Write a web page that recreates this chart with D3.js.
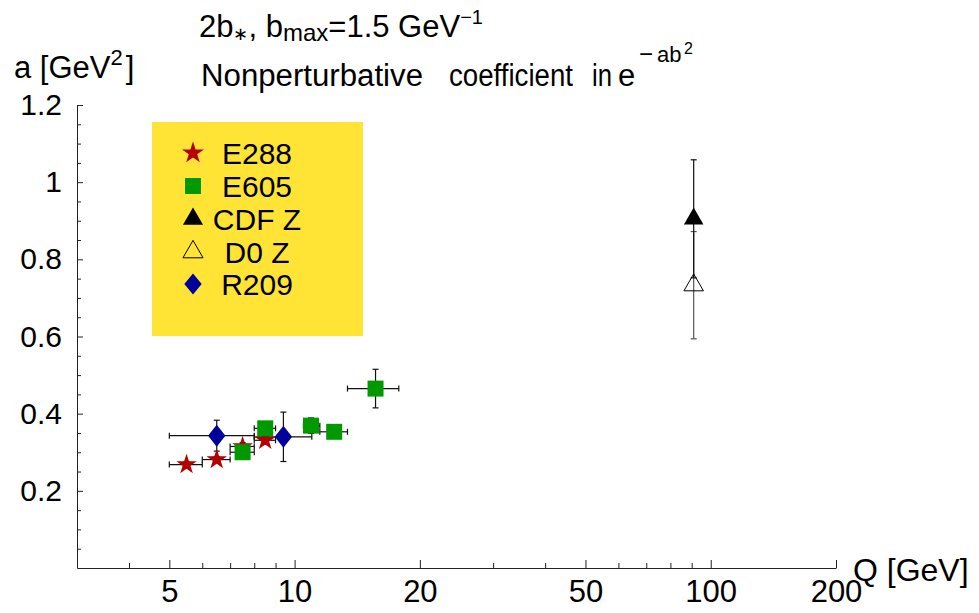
<!DOCTYPE html>
<html>
<head>
<meta charset="utf-8">
<script src="https://cdn.jsdelivr.net/npm/d3@7"></script>
<style>
  body { margin: 0; background: #fff; }
  text { font-family: "Liberation Sans", Arial, sans-serif; fill: #000; }
</style>
</head>
<body>
<div id="chart"></div>
<script>
// E288 (stars)
const E288_Q = [5.5, 6.5, 7.5, 8.5];
const E288_A = [0.268, 0.281, 0.315, 0.331];
const E288_QLO = [5, 6, 7, 8];
const E288_QHI = [6, 7, 8, 9];
const E288_ERR = [0.008, 0.008, 0.01, 0.01];

// E605 (squares)
const E605_Q = [7.5, 8.5, 10.95, 12.45, 15.65];
const E605_A = [0.300, 0.362, 0.369, 0.353, 0.465];
const E605_QLO = [7, 8, 10.5, 11.5, 13.4];
const E605_QHI = [8, 9, 11.5, 13.4, 17.8];
const E605_ERR = [0.012, 0.012, 0.02, 0.01, 0.05];

// R209 (diamonds)
const R209_Q = [6.5, 9.4];
const R209_A = [0.343, 0.340];
const R209_QLO = [5, 8];
const R209_QHI = [8, 11];
const R209_ERR = [0.04, 0.064];

// Z boson points
const CDF_Q = [91];
const CDF_A = [0.905];
const CDF_ERR = [0.153];
const D0_Q = [91];
const D0_A = [0.733];
const D0_ERR = [0.139];

const X_MAJOR = [5, 10, 20, 50, 100, 200];
const X_MINOR = [4, 6, 7, 8, 9, 30, 40, 60, 70, 80, 90];
const Y_MAJOR = [0.2, 0.4, 0.6, 0.8, 1, 1.2];
const Y_MINOR = [0.05, 0.1, 0.15, 0.25, 0.3, 0.35, 0.45, 0.5, 0.55, 0.65, 0.7, 0.75,
                 0.85, 0.9, 0.95, 1.05, 1.1, 1.15];

const LEGEND_LABELS = ["E288", "E605", "CDF Z", "D0 Z", "R209"];

const WIDTH = 979, HEIGHT = 613;
const PLOT = {left: 77, right: 836, top: 105, bottom: 568};
const RED = "#b30000", GREEN = "#009a00", BLUE = "#00009a";

var x = d3.scaleLog().domain([3, 200]).range([PLOT.left, PLOT.right]);
var y = d3.scaleLinear().domain([0, 1.2]).range([PLOT.bottom, PLOT.top]);

const svg = d3.select("#chart").append("svg")
    .attr("width", WIDTH)
    .attr("height", HEIGHT);

// axes
const gx = svg.append("g").attr("transform", `translate(0,${PLOT.bottom})`);
gx.call(d3.axisBottom(x).tickValues(X_MAJOR).tickFormat(d3.format("d"))
        .tickSizeInner(-8).tickSizeOuter(0).tickPadding(12));
gx.selectAll(".tick text").attr("font-size", 31);
gx.append("g").call(d3.axisBottom(x).tickValues(X_MINOR).tickFormat("")
        .tickSizeInner(-5).tickSizeOuter(0))
    .select(".domain").remove();

const gy = svg.append("g").attr("transform", `translate(${PLOT.left},0)`);
gy.call(d3.axisLeft(y).tickValues(Y_MAJOR).tickFormat(d3.format("~g"))
        .tickSizeInner(-6).tickSizeOuter(0).tickPadding(15));
gy.selectAll(".tick text").attr("font-size", 30);
gy.append("g").call(d3.axisLeft(y).tickValues(Y_MINOR).tickFormat("")
        .tickSizeInner(-4).tickSizeOuter(0))
    .select(".domain").remove();

svg.selectAll(".domain, .tick line").attr("stroke", "#222");

// axis labels and titles
const yl = svg.append("text").attr("x", 14).attr("y", 78).attr("font-size", 31);
yl.append("tspan").text("a [GeV");
yl.append("tspan").attr("font-size", 22).attr("dy", -13).text("2");
yl.append("tspan").attr("dy", 13).attr("dx", 3).text("]");

svg.append("text").attr("x", 853).attr("y", 581).attr("font-size", 32).text("Q [GeV]");

const t1 = svg.append("text").attr("x", 199).attr("y", 37).attr("font-size", 31);
t1.append("tspan").text("2b");
t1.append("tspan").attr("font-size", 18).attr("dy", 3).text("\u2217");
t1.append("tspan").attr("dy", -3).text(", b");
t1.append("tspan").attr("font-size", 24).attr("dy", 4).text("max");
t1.append("tspan").attr("dy", -4).text("=1.5 GeV");
t1.append("tspan").attr("font-size", 20).attr("dy", -13).text("\u22121");

// second title line, words placed like the original typesetting
const T2 = svg.append("g").attr("font-size", 31);
T2.append("text").attr("x", 201).attr("y", 86)
    .attr("textLength", 222).attr("lengthAdjust", "spacingAndGlyphs").text("Nonperturbative");
T2.append("text").attr("x", 449).attr("y", 86)
    .attr("textLength", 124).attr("lengthAdjust", "spacingAndGlyphs").text("coefficient");
T2.append("text").attr("x", 592).attr("y", 86)
    .attr("textLength", 20).attr("lengthAdjust", "spacingAndGlyphs").text("in");
T2.append("text").attr("x", 618).attr("y", 86).text("e");
T2.append("text").attr("x", 639).attr("y", 62).attr("font-size", 24).text("\u2212");
T2.append("text").attr("x", 657).attr("y", 62).attr("font-size", 22).text("ab");
T2.append("text").attr("x", 684).attr("y", 54).attr("font-size", 16).text("2");

// legend box
svg.append("rect")
    .attr("x", 152).attr("y", 122)
    .attr("width", 211).attr("height", 214)
    .attr("fill", "#ffe436");

// marker shapes
const star = d3.symbol().type(d3.symbolStar).size(130)();
const square = d3.symbol().type(d3.symbolSquare).size(256)();
const tri = d3.symbol().type(d3.symbolTriangle).size(165)();
const diamond = "M0,-11L8.7,0L0,11L-8.7,0Z";

function errorBars(g, qs, as, errs, qlo, qhi, stroke) {
    const cap = 3;
    qs.forEach((q, i) => {
        const cx = x(q);
        const ya = y(as[i] + errs[i]), yb = y(as[i] - errs[i]);
        g.append("line").attr("x1", cx).attr("x2", cx).attr("y1", ya).attr("y2", yb);
        g.append("line").attr("x1", cx - cap).attr("x2", cx + cap).attr("y1", ya).attr("y2", ya);
        g.append("line").attr("x1", cx - cap).attr("x2", cx + cap).attr("y1", yb).attr("y2", yb);
        if (qlo) {
            const cy = y(as[i]), xa = x(qlo[i]), xb = x(qhi[i]);
            g.append("line").attr("x1", xa).attr("x2", xb).attr("y1", cy).attr("y2", cy);
            g.append("line").attr("x1", xa).attr("x2", xa).attr("y1", cy - cap).attr("y2", cy + cap);
            g.append("line").attr("x1", xb).attr("x2", xb).attr("y1", cy - cap).attr("y2", cy + cap);
        }
    });
    g.selectAll("line").attr("stroke", stroke || "#111").attr("stroke-width", 1.2);
}

function markers(g, qs, as, path, fill, stroke) {
    g.selectAll("path")
        .data(qs.map((q, i) => [q, as[i]]))
        .enter().append("path")
        .attr("d", path)
        .attr("transform", d => `translate(${x(d[0])},${y(d[1])})`)
        .attr("fill", fill)
        .attr("stroke", stroke || "none");
}

const G = svg.append("g");
errorBars(G.append("g"), D0_Q, D0_A, D0_ERR, null, null, "#555");
errorBars(G.append("g"), CDF_Q, CDF_A, CDF_ERR, null, null, "#111");
errorBars(G.append("g"), E288_Q, E288_A, E288_ERR, E288_QLO, E288_QHI);
errorBars(G.append("g"), R209_Q, R209_A, R209_ERR, R209_QLO, R209_QHI);
errorBars(G.append("g"), E605_Q, E605_A, E605_ERR, E605_QLO, E605_QHI);

markers(G.append("g"), E288_Q, E288_A, star, RED);
markers(G.append("g"), E605_Q, E605_A, square, GREEN);
markers(G.append("g"), R209_Q, R209_A, diamond, BLUE);
markers(G.append("g"), CDF_Q, CDF_A, tri, "#000");
markers(G.append("g"), D0_Q, D0_A, tri, "none", "#000");

// legend entries
const LEG_Y = [153, 186, 219, 252, 284];
const LEG_SHAPES = [
    {d: d3.symbol().type(d3.symbolStar).size(150)(), fill: RED, stroke: "none"},
    {d: square, fill: GREEN, stroke: "none"},
    {d: d3.symbol().type(d3.symbolTriangle).size(175)(), fill: "#000", stroke: "none"},
    {d: d3.symbol().type(d3.symbolTriangle).size(175)(), fill: "none", stroke: "#000"},
    {d: "M0,-10.5L8.7,0L0,10.5L-8.7,0Z", fill: BLUE, stroke: "none"}
];
const leg = svg.append("g").selectAll("g")
    .data(LEGEND_LABELS)
    .enter().append("g")
    .attr("transform", (d, i) => `translate(0,${LEG_Y[i]})`);
leg.append("path")
    .attr("d", (d, i) => LEG_SHAPES[i].d)
    .attr("transform", "translate(193,0)")
    .attr("fill", (d, i) => LEG_SHAPES[i].fill)
    .attr("stroke", (d, i) => LEG_SHAPES[i].stroke);
leg.append("text")
    .attr("x", 257).attr("y", 10.5)
    .attr("text-anchor", "middle")
    .attr("font-size", 30)
    .text(d => d);
</script>
</body>
</html>
